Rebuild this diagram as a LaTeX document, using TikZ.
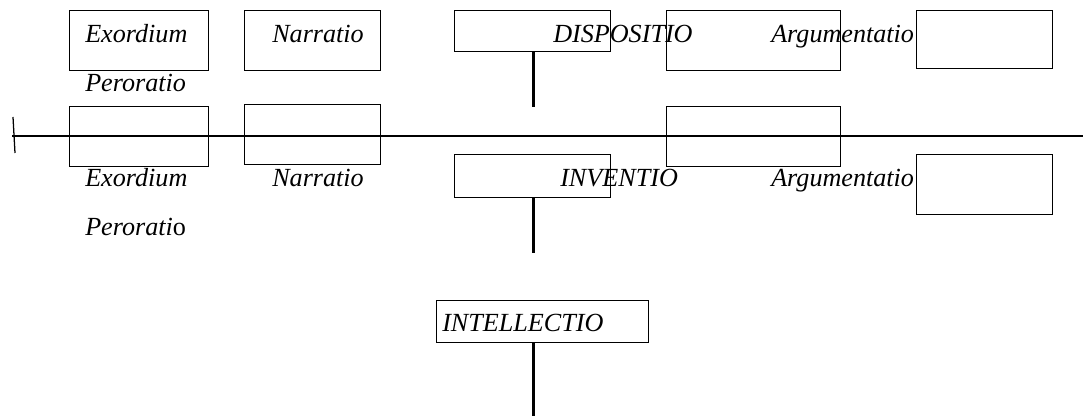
\documentclass[tikz,border=0pt]{standalone}
\usepackage{fontspec}
\setmainfont{Liberation Serif}

\tikzset{every node/.style={inner sep=0pt}}
\tikzstyle{part}=[draw,line width=0.95pt,rectangle,anchor=north west]
\tikzstyle{lbl}=[anchor=base west,font=\fontsize{19.6}{22}\selectfont\itshape]
\tikzstyle{stem}=[line width=2.6pt]

\begin{document}
\begin{tikzpicture}[x=0.75pt,y=-0.75pt]
            \useasboundingbox (0,0) rectangle (1083,416);

            % dispositio row
            \node [part,minimum width=104.25pt,minimum height=45pt] (dex) at (69,10) {};
            \node [part,minimum width=102pt,minimum height=45pt] (dna) at (244,10) {};
            \node [part,minimum width=117pt,minimum height=30.75pt] (disp) at (454,10) {};
            \node [part,minimum width=130.5pt,minimum height=45pt] (dar) at (666,10) {};
            \node [part,minimum width=102pt,minimum height=43.5pt] (dpe) at (916,10) {};
            \node [lbl] (tdex) at (85,43) {Exordium};
            \node [lbl] (tdna) at (272,43) {Narratio};
            \node [lbl] (tdisp) at (553,43) {DISPOSITIO};
            \node [lbl] (tdar) at (771,43) {Argumentatio};
            \node [lbl] (tdpe) at (85,92) {Peroratio};
            \coordinate (dend) at (533.5,107);
            \draw [stem] (disp.south -| dend) -- (dend);

            % axis
            \coordinate (ax0) at (12,136);
            \coordinate (ax1) at (1083,136);
            \draw [line width=0.95pt] (ax0) -- (ax1);
            \draw [line width=0.95pt] (13,117) -- (15,153);

            % inventio row
            \node [part,minimum width=104.25pt,minimum height=45pt] (iex) at (69,106) {};
            \node [part,minimum width=102pt,minimum height=45pt] (ina) at (244,104) {};
            \node [part,minimum width=130.5pt,minimum height=45pt] (iar) at (666,106) {};
            \node [part,minimum width=117pt,minimum height=32.25pt] (inv) at (454,154) {};
            \node [part,minimum width=102pt,minimum height=45pt] (ipe) at (916,154) {};
            \node [lbl] (tiex) at (85,187) {Exordium};
            \node [lbl] (tina) at (272,187) {Narratio};
            \node [lbl] (tinv) at (560,187) {INVENTIO};
            \node [lbl] (tiar) at (771,187) {Argumentatio};
            \node [lbl] (tipe) at (85,236) {Perorati{\upshape o}};
            \coordinate (iend) at (533.5,253);
            \draw [stem] (inv.south -| iend) -- (iend);

            % intellectio
            \node [part,minimum width=159pt,minimum height=31.5pt] (intel) at (436,300) {};
            \node [lbl] (tintel) at (442,332) {INTELLECTIO};
            \coordinate (tend) at (533.5,416);
            \draw [stem] (intel.south -| tend) -- (tend);
        \end{tikzpicture}
\end{document}
